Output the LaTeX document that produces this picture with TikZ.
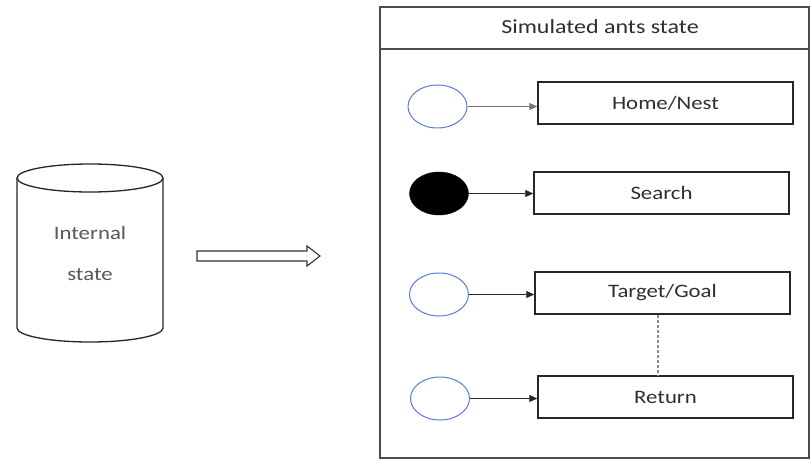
\documentclass[tikz,border=0pt]{standalone}
\usepackage{fontspec}
\setmainfont[FakeStretch=1.2]{Carlito}
\usetikzlibrary{arrows.meta,shapes.geometric}
\definecolor{txt}{HTML}{2E2E2E}
\definecolor{circ}{HTML}{5B7BD5}
\begin{document}
\begin{tikzpicture}[x=1pt,y=-1pt,
  statebox/.style={draw=black!85,line width=1.5pt,minimum width=255pt,minimum height=42pt,inner sep=0pt,font=\fontsize{19}{21}\selectfont,text=txt},
  ring/.style={ellipse,draw=circ,line width=1pt,minimum width=59pt,minimum height=43pt,inner sep=0pt},
  dot/.style={ellipse,fill=black,draw=black,minimum width=59pt,minimum height=43pt,inner sep=0pt},
  link/.style={draw=black!85,line width=0.9pt,-{Triangle[length=8pt,width=7pt]}}]
\useasboundingbox (0,0) rectangle (811,465);
% frame
\draw[draw=black!70,line width=1.7pt] (380,7) rectangle (809,458);
\draw[draw=black!70,line width=1.7pt] (380,49) -- (809,49);
\node[font=\fontsize{20}{22}\selectfont,text=txt] (title) at (600,27) {Simulated ants state};
% boxes
\node[statebox] (home) at (665.5,103) {Home/Nest};
\node[statebox] (search) at (661.5,193) {Search};
\node[statebox] (target) at (662.5,293) {Target/Goal};
\node[statebox] (ret) at (665.5,397) {Return};
% circles
\node[ring] (c1) at (437.5,106.5) {};
\node[dot] (c2) at (439,193.5) {};
\node[ring] (c3) at (439,294.5) {};
\node[ring] (c4) at (440,398.5) {};
\draw[link,draw=black!55] (c1.east) -- (home.west |- c1.east);
\draw[link] (c2.east) -- (search.west |- c2.east);
\draw[link] (c3.east) -- (target.west |- c3.east);
\draw[link] (c4.east) -- (ret.west |- c4.east);
\draw[draw=black!45,line width=1.2pt,densely dashed] ([xshift=-4.5pt]target.south) -- ([xshift=-4.5pt]target.south |- ret.north);
% cylinder
\draw[draw=black!85,line width=1.3pt,fill=white] (17,178) -- (17,328) arc[start angle=180,end angle=360,x radius=73,y radius=-14] -- (163,178);
\draw[draw=black!85,line width=1.3pt] (90,178) ellipse[x radius=73,y radius=14];
\node[font=\fontsize{19}{40}\selectfont,text=black!65,align=center] (store) at (90,253) {Internal\\[1pt]state};
% hollow arrow
\draw[draw=black!80,line width=1.1pt,fill=white] (197,251) -- (307,251) -- (307,246) -- (320,256) -- (307,266) -- (307,261) -- (197,261) -- cycle;
\end{tikzpicture}
\end{document}
